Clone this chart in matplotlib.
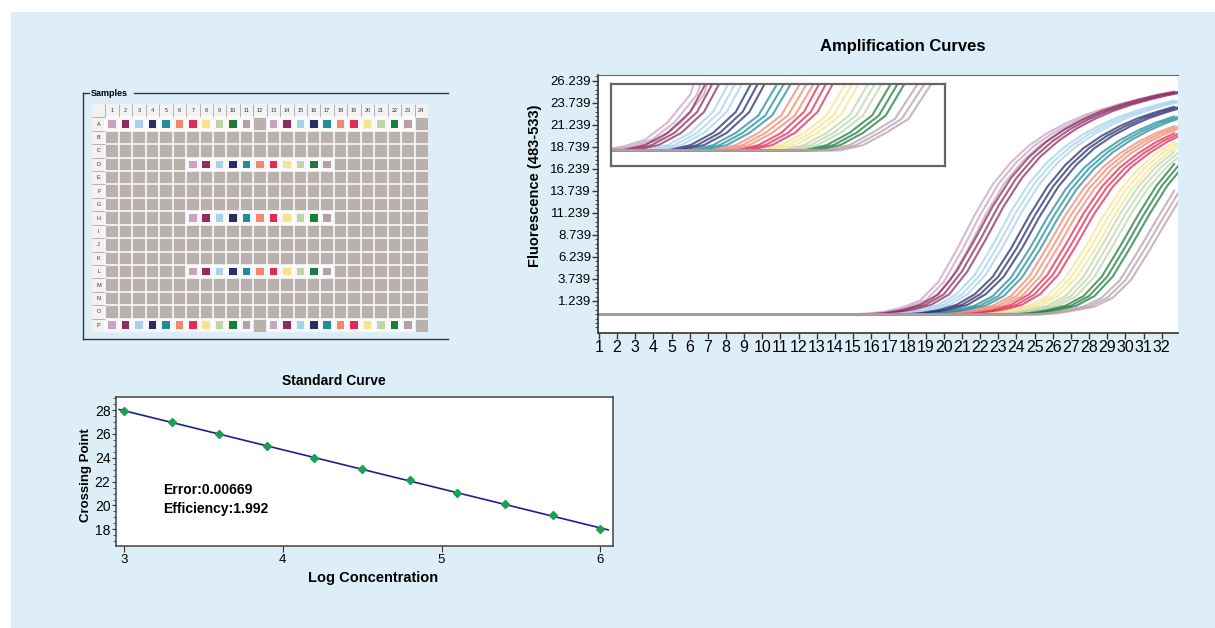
import numpy as np
import matplotlib
matplotlib.use('Agg')
import matplotlib.pyplot as plt
from matplotlib.patches import Rectangle
from matplotlib.ticker import FixedLocator

plt.rcParams['font.family'] = ['Liberation Sans Narrow', 'Liberation Sans', 'DejaVu Sans']

# ---- data -------------------------------------------------------------
cycles = list(range(1, 34))

# one colour per dilution step (same order in plate, curves and standard curve)
dilution_colors = ['#c9a2c4', '#8e2c60', '#a6d2ea', '#262d6c', '#1f8d9d', '#f2886e',
                   '#e12a55', '#f4e58c', '#bcd6aa', '#1e7b3b', '#b69fab']

# fluorescence (483-533) per cycle
fluor = [
    [-0.3] * 15 + [-0.2, 0.0, 0.5, 1.3, 3.4, 7.0, 11.0, 14.5, 17.0, 18.9, 20.3, 21.4, 22.3, 23.0, 23.6, 24.1, 24.6, 25.0],
    [-0.3] * 16 + [-0.15, 0.2, 0.8, 2.0, 4.6, 8.2, 12.0, 15.2, 17.6, 19.4, 20.8, 21.9, 22.8, 23.5, 24.1, 24.6, 25.0],
    [-0.3] * 17 + [-0.15, 0.2, 0.8, 2.0, 4.2, 7.6, 11.4, 14.6, 17.0, 18.8, 20.2, 21.3, 22.2, 22.9, 23.5, 24.0],
    [-0.3] * 18 + [-0.15, 0.2, 0.8, 2.0, 4.0, 7.2, 10.9, 14.2, 16.7, 18.6, 20.0, 21.1, 22.0, 22.7, 23.3],
    [-0.3] * 19 + [-0.15, 0.2, 0.7, 1.8, 3.9, 7.1, 10.7, 13.9, 16.3, 18.1, 19.5, 20.6, 21.5, 22.2],
    [-0.3] * 20 + [-0.15, 0.2, 0.7, 1.8, 4.0, 7.4, 11.0, 14.0, 16.3, 18.0, 19.3, 20.3, 21.1],
    [-0.3] * 21 + [-0.15, 0.2, 0.8, 2.0, 4.2, 7.6, 11.2, 14.2, 16.4, 18.0, 19.3, 20.3],
    [-0.3] * 22 + [-0.15, 0.2, 0.7, 1.8, 3.9, 7.0, 10.6, 13.8, 16.2, 18.0, 19.3],
    [-0.3] * 23 + [-0.15, 0.2, 0.7, 1.8, 4.0, 7.5, 11.1, 14.2, 16.5, 18.2],
    [-0.3] * 24 + [-0.15, 0.2, 0.7, 1.8, 4.0, 7.4, 11.0, 14.3, 16.8],
    [-0.3] * 25 + [-0.15, 0.2, 0.6, 1.6, 3.6, 6.9, 10.4, 13.8],
]
# replicate wells come up slightly earlier / later (cycles)
replicate_shift = [-0.3, 0.0, 0.3]

y_ticks = [1.239, 3.739, 6.239, 8.739, 11.239, 13.739, 16.239, 18.739, 21.239, 23.739, 26.239]

# standard curve
log_conc = [3.0, 3.3, 3.6, 3.9, 4.2, 4.5, 4.8, 5.1, 5.4, 5.7, 6.0]
crossing_point = [27.92, 26.97, 26.02, 24.99, 23.95, 23.09, 22.11, 21.05, 20.10, 19.17, 18.02]
error_txt = 'Error:0.00669'
eff_txt = 'Efficiency:1.992'

# plate layout (384 wells)
plate_rows = list('ABCDEFGHIJKLMNOP')
plate_cols = list(range(1, 25))
series_starts = {'A': [1, 13], 'D': [7], 'H': [7], 'L': [7], 'P': [1, 13]}

# ---- figure -----------------------------------------------------------
W, H = 1215, 628
fig = plt.figure(figsize=(W / 100, H / 100), dpi=100)
fig.patch.set_facecolor('white')


def px_axes(left, top, right, bottom):
    return fig.add_axes([left / W, 1 - bottom / H, (right - left) / W, (bottom - top) / H])


deco = px_axes(0, 0, W, H)
deco.set_xlim(0, W)
deco.set_ylim(H, 0)
deco.set_axis_off()
deco.add_patch(Rectangle((11, 12), W, H, color='#ddeef9', lw=0))

# samples frame
fc = '#333333'
deco.plot([83, 89], [93, 93], color=fc, lw=1)
deco.plot([134, 448], [93, 93], color=fc, lw=1)
deco.plot([83, 83], [93, 339], color=fc, lw=1)
deco.plot([83, 448], [339, 339], color=fc, lw=1)
deco.text(91, 93, 'Samples', fontsize=6.5, fontweight='bold', family='Liberation Sans', va='center', ha='left')

# titles / labels positioned like the original
deco.text(903, 46, 'Amplification Curves', fontsize=12, fontweight='bold', family='Liberation Sans',
          ha='center', va='center')
deco.text(535, 186, 'Fluorescence (483-533)', fontsize=10.5, fontweight='bold', family='Liberation Sans',
          ha='center', va='center', rotation=90)
deco.text(334, 381, 'Standard Curve', fontsize=10, fontweight='bold', family='Liberation Sans',
          ha='center', va='center')
deco.text(373, 578, 'Log Concentration', fontsize=10.5, fontweight='bold', family='Liberation Sans',
          ha='center', va='center')
deco.text(86, 475, 'Crossing Point', fontsize=9.5, fontweight='bold', family='Liberation Sans',
          ha='center', va='center', rotation=90)

# ---- plate --------------------------------------------------------------
ax_p = px_axes(92, 104, 428, 332)
nr, nc = len(plate_rows) + 1, len(plate_cols) + 1
img = np.zeros((nr, nc, 3))
img[:, :] = matplotlib.colors.to_rgb('#b9b1ae')
img[0, :] = matplotlib.colors.to_rgb('#f3f1f1')
img[:, 0] = matplotlib.colors.to_rgb('#f3f1f1')
wells_x, wells_y, wells_c = [], [], []
for row, starts in series_starts.items():
    r = plate_rows.index(row) + 1
    for s in starts:
        for k, col in enumerate(dilution_colors):
            c = s + k
            img[r, c] = matplotlib.colors.to_rgb('#f8f6f6')
            wells_x.append(c + 0.5)
            wells_y.append(r + 0.5)
            wells_c.append(col)
ax_p.imshow(img, extent=(0, nc, nr, 0), aspect='auto', interpolation='nearest')
ax_p.vlines(np.arange(1, nc), 1, nr, color='white', lw=1.1)
ax_p.hlines(np.arange(1, nr), 1, nc, color='white', lw=1.1)
ax_p.vlines(np.arange(1, nc), 0, 1, color='#9a9a9a', lw=0.5)
ax_p.hlines(np.arange(1, nr), 0, 1, color='#9a9a9a', lw=0.5)
ax_p.scatter(wells_x, wells_y, s=30, marker='s', c=wells_c, linewidths=0, zorder=3)
for j, cl in enumerate(plate_cols):
    ax_p.text(j + 1.5, 0.5, str(cl), fontsize=4, ha='center', va='center', color='#333')
for i, rl in enumerate(plate_rows):
    ax_p.text(0.5, i + 1.5, rl, fontsize=4, ha='center', va='center', color='#333')
ax_p.set_xlim(0, nc)
ax_p.set_ylim(nr, 0)
ax_p.set_axis_off()

# ---- amplification curves ---------------------------------------------
ax = px_axes(598, 75, 1178, 333)
cyc = np.array(cycles, dtype=float)
for vals, col in zip(fluor, dilution_colors):
    for sh in replicate_shift:
        ax.plot(cyc + sh, vals, color=col, lw=1.5, alpha=0.75, solid_capstyle='round')
ax.set_xlim(0.95, 32.9)
ax.set_ylim(-2.4, 26.9)
ax.set_xticks(cycles[:32])
ax.set_xticklabels([str(c) for c in cycles[:32]], fontsize=11.5)
ax.set_yticks(y_ticks)
ax.set_yticklabels(['%.3f' % v for v in y_ticks], fontsize=9.5)
ax.yaxis.set_minor_locator(FixedLocator(np.arange(-1.761, 26.9, 0.5)))
ax.tick_params(axis='x', length=4, width=1, pad=1, color='#333')
ax.tick_params(axis='y', which='major', length=4, width=1, pad=1, color='#333')
ax.tick_params(axis='y', which='minor', length=2, width=0.8, color='#555')
for s in ['left', 'bottom']:
    ax.spines[s].set_color('#333')
    ax.spines[s].set_linewidth(1.2)
ax.spines['top'].set_color('#666')
ax.spines['right'].set_visible(False)

# zoomed inset of the take-off region
ins = ax.inset_axes([0.022, 0.647, 0.576, 0.318])
for vals, col in zip(fluor, dilution_colors):
    for sh in replicate_shift:
        ins.plot(cyc + sh, vals, color=col, lw=1.5, alpha=0.75)
ins.set_xlim(15.2, 29.9)
ins.set_ylim(-0.75, 1.6)
ins.set_xticks([])
ins.set_yticks([])
for s in ins.spines.values():
    s.set_color('#666')
    s.set_linewidth(1.6)

# ---- standard curve -----------------------------------------------------
ax_s = px_axes(116, 397, 613, 546)
k, b = np.polyfit(log_conc, crossing_point, 1)
xs = np.array([2.97, 6.05])
ax_s.plot(xs, k * xs + b, color='#1f1f8c', lw=1.2)
ax_s.plot(log_conc, crossing_point, 'D', color='#1aa04f', ms=4, mec='#1aa04f')
ax_s.set_xlim(2.95, 6.08)
ax_s.set_ylim(16.6, 29.1)
ax_s.set_xticks([3, 4, 5, 6])
ax_s.set_yticks([18, 20, 22, 24, 26, 28])
ax_s.yaxis.set_minor_locator(FixedLocator(np.arange(17, 29.1, 0.5)))
ax_s.tick_params(axis='x', length=4, labelsize=9.5, pad=2, color='#333')
ax_s.tick_params(axis='y', which='major', length=3, labelsize=10, pad=1, color='#333')
ax_s.tick_params(axis='y', which='minor', length=2, width=0.7, color='#555')
for s in ax_s.spines.values():
    s.set_color('#444')
    s.set_linewidth(1.1)
ax_s.text(0.094, 0.374, error_txt, transform=ax_s.transAxes, fontsize=10, fontweight='bold',
          family='Liberation Sans', va='center')
ax_s.text(0.094, 0.246, eff_txt, transform=ax_s.transAxes, fontsize=10, fontweight='bold',
          family='Liberation Sans', va='center')

fig.savefig('out.png', dpi=100)
